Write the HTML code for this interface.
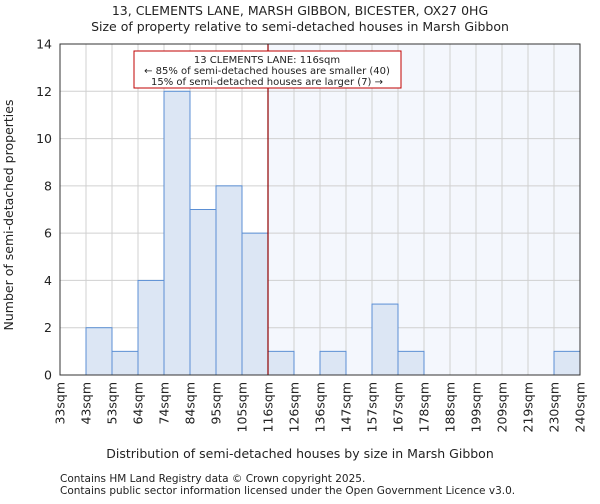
<!DOCTYPE html>
<html><head><meta charset="utf-8"><style>
body{margin:0;background:#fff;font-family:"DejaVu Sans","Liberation Sans",sans-serif;}
svg text{font-family:"DejaVu Sans","Liberation Sans",sans-serif;fill:#222;}
</style></head><body>
<svg id="chart" width="600" height="500" xmlns="http://www.w3.org/2000/svg"></svg>
<script>
const binLabels=["33sqm","43sqm","53sqm","64sqm","74sqm","84sqm","95sqm","105sqm","116sqm","126sqm","136sqm","147sqm","157sqm","167sqm","178sqm","188sqm","199sqm","209sqm","219sqm","230sqm","240sqm"];
const counts=[0,2,1,4,12,7,8,6,1,0,1,0,3,1,0,0,0,0,0,1];
const yTicks=[0,2,4,6,8,10,12,14];
const markerIndex=8;
const L=60,R=580,T=44,B=375,yMax=14;
const NS="http://www.w3.org/2000/svg";
const svg=document.getElementById('chart');
const bw=(R-L)/counts.length;
const x=i=>L+i*bw;
const y=v=>B-(v/yMax)*(B-T);
function el(t,a,txt){const e=document.createElementNS(NS,t);for(const k in a)e.setAttribute(k,a[k]);if(txt!=null)e.textContent=txt;svg.appendChild(e);return e;}
let e;
e=el('rect',{x:x(markerIndex),y:T,width:R-x(markerIndex),height:B-T,fill:'#f4f7fd'});


yTicks.forEach(v=>{e=el('line',{x1:L,x2:R,y1:y(v),y2:y(v),stroke:'#d0d0d0','stroke-width':1});

});
binLabels.forEach((b,i)=>{e=el('line',{x1:x(i),x2:x(i),y1:T,y2:B,stroke:'#d0d0d0','stroke-width':1});

});
counts.forEach((c,i)=>{if(c<=0)return;e=el('rect',{x:x(i),y:y(c),width:bw,height:B-y(c),fill:'#dce6f4',stroke:'#5b8fd4','stroke-width':1});

});
e=el('line',{x1:x(markerIndex),x2:x(markerIndex),y1:T,y2:B,stroke:'#900000','stroke-width':1.2});


e=el('rect',{x:L,y:T,width:R-L,height:B-T,fill:'none',stroke:'#333','stroke-width':1});


yTicks.forEach(v=>{e=el('text',{x:L-8,y:y(v)+4.5,'text-anchor':'end','font-size':12.5},String(v));

});
binLabels.forEach((b,i)=>{e=el('text',{transform:`translate(${x(i)+4.5},${B+7}) rotate(-90)`,'text-anchor':'end','font-size':12.5},b);

});
e=el('rect',{x:134,y:51,width:267,height:37,fill:'#fff',stroke:'#c00000','stroke-width':1});


[["13 CLEMENTS LANE: 116sqm",63],["← 85% of semi-detached houses are smaller (40)",74],["15% of semi-detached houses are larger (7) →",85]].forEach(([t,yy])=>{e=el('text',{x:267,y:yy,'text-anchor':'middle','font-size':10},t);

});
e=el('text',{x:300,y:15,'text-anchor':'middle','font-size':12.5},"13, CLEMENTS LANE, MARSH GIBBON, BICESTER, OX27 0HG");


e=el('text',{x:300,y:31,'text-anchor':'middle','font-size':12.5},"Size of property relative to semi-detached houses in Marsh Gibbon");


e=el('text',{x:300,y:458,'text-anchor':'middle','font-size':12.5},"Distribution of semi-detached houses by size in Marsh Gibbon");


e=el('text',{transform:'translate(13,215) rotate(-90)','text-anchor':'middle','font-size':12.5},"Number of semi-detached properties");


e=el('text',{x:60,y:482,'font-size':10.5},"Contains HM Land Registry data © Crown copyright 2025.");


e=el('text',{x:60,y:494,'font-size':10.5},"Contains public sector information licensed under the Open Government Licence v3.0.");


</script>
</body></html>
